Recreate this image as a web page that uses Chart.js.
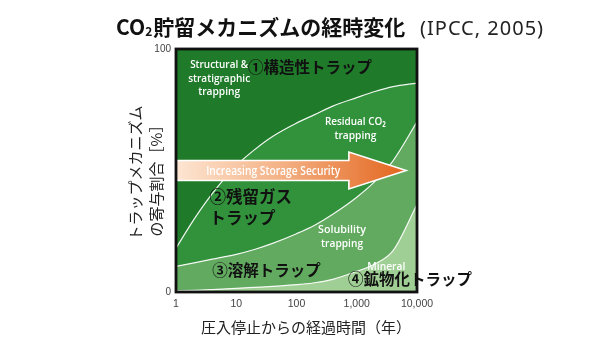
<!DOCTYPE html>
<html>
<head>
<meta charset="utf-8">
<script src="https://cdn.jsdelivr.net/npm/chart.js@4.4.1/dist/chart.umd.min.js"></script>
<style>
  html, body { margin: 0; padding: 0; background: #fff; }
  #wrap { width: 590px; height: 345px; position: relative; }
</style>
</head>
<body>
<div id="wrap"><canvas id="trapChart"></canvas></div>
<script>
// years after injection stops (log axis)
const years = [1, 2, 4, 10, 20, 40, 100, 200, 400, 1000, 2000, 4000, 10000];
// cumulative upper edge of each trapping band [%]
const mineralTop    = [0.5, 0.7, 1, 1.5, 1.9, 2.3, 3, 3.8, 5.2, 8.5, 11.5, 17, 36];
const solubilityTop = [10.5, 12, 13.5, 15.5, 17.5, 20, 24, 27.5, 32, 39, 45.5, 54, 70];
const residualTop   = [18, 30, 40.5, 52, 58.5, 64, 69.5, 73, 76.5, 80, 82.5, 84.5, 86];
const structuralTop = [100, 100, 100, 100, 100, 100, 100, 100, 100, 100, 100, 100, 100];

const xTicks = [1, 10, 100, 1000, 10000];
const yTicks = [0, 100];

const JP = '"Noto Sans CJK JP", sans-serif';
const EN = '"Open Sans", "Noto Sans", sans-serif';

function pts(arr) {
  return years.map((y, i) => ({ x: y, y: arr[i] }));
}

function band(label, arr, color, fill, line) {
  return {
    label: label,
    data: pts(arr),
    backgroundColor: color,
    borderColor: line ? "rgba(255,255,255,0.9)" : "rgba(0,0,0,0)",
    borderWidth: line ? 1.2 : 0,
    fill: fill,
    pointRadius: 0,
    cubicInterpolationMode: "monotone",
  };
}

// labels inside the plot, placed in data units (year, %)
const whiteLabels = [
  { lines: ["Structural &", "stratigraphic", "trapping"], x: 5.2, y: 93.4, w: [58, 62, 42] },
  { lines: ["Residual CO\u2082", "trapping"], x: 950, y: 70, w: [61, 42] },
  { lines: ["Solubility", "trapping"], x: 570, y: 25.5, w: [48, 42] },
  { lines: ["Mineral"], x: 3100, y: 10.3, w: [38] },
];
const jpLabels = [
  { text: "\u2460構造性トラップ", x: 15.7, y: 92.6, size: 15.5 },
  { text: "\u2461残留ガス", x: 3.6, y: 39, size: 16.5 },
  { text: "トラップ", x: 3.6, y: 30.5, size: 16.5 },
  { text: "\u2462溶解トラップ", x: 4.0, y: 9, size: 15.5 },
  { text: "\u2463鉱物化トラップ", x: 716, y: 5.3, size: 15.5 },
];
// storage security arrow, in data units
const arrow = { tail: 1, neck: 740, tip: 6600, mid: 50, shaft: 4.1, head: 7.6 };

const decor = {
  id: "decor",
  afterDatasetsDraw(chart) {
    const ctx = chart.ctx;
    const sx = chart.scales.x, sy = chart.scales.y;
    const area = chart.chartArea;
    const X = (v) => sx.getPixelForValue(v);
    const Y = (v) => sy.getPixelForValue(v);

    // arrow
    const x0 = X(arrow.tail), xn = X(arrow.neck), xt = X(arrow.tip);
    const yc = Y(arrow.mid);
    const sh = Y(arrow.mid - arrow.shaft) - yc;
    const hh = Y(arrow.mid - arrow.head) - yc;
    ctx.save();
    const g = ctx.createLinearGradient(x0, 0, xt, 0);
    g.addColorStop(0, "#fde6d3");
    g.addColorStop(0.45, "#f4b286");
    g.addColorStop(1, "#e3651d");
    ctx.beginPath();
    ctx.moveTo(x0, yc - sh);
    ctx.lineTo(xn, yc - sh);
    ctx.lineTo(xn, yc - hh);
    ctx.lineTo(xt, yc);
    ctx.lineTo(xn, yc + hh);
    ctx.lineTo(xn, yc + sh);
    ctx.lineTo(x0, yc + sh);
    ctx.closePath();
    ctx.fillStyle = g;
    ctx.fill();
    ctx.strokeStyle = "#fff";
    ctx.lineWidth = 1.6;
    ctx.stroke();
    ctx.fillStyle = "#fff";
    ctx.font = "600 12.5px " + EN;
    ctx.textAlign = "center";
    ctx.textBaseline = "middle";
    ctx.fillText("Increasing Storage Security", X(41), yc + 1, 134);

    // white english labels
    ctx.font = "600 11px " + EN;
    whiteLabels.forEach((l) => {
      l.lines.forEach((t, i) => {
        ctx.fillText(t, X(l.x), Y(l.y) + i * 13.5, l.w[i]);
      });
    });

    // japanese labels
    ctx.fillStyle = "#111";
    ctx.textAlign = "left";
    jpLabels.forEach((l) => {
      ctx.font = "bold " + l.size + "px " + JP;
      ctx.fillText(l.text, X(l.x), Y(l.y));
    });

    // frame
    ctx.strokeStyle = "#111";
    ctx.lineWidth = 2.8;
    ctx.strokeRect(area.left, area.top, area.right - area.left, area.bottom - area.top);

    // title
    ctx.fillStyle = "#111";
    ctx.textBaseline = "alphabetic";
    ctx.font = "bold 21px " + JP;
    let tx = 116;
    const base = 35;
    ctx.fillText("CO", tx, base);
    tx += ctx.measureText("CO").width;
    ctx.font = "bold 12px " + JP;
    ctx.fillText("2", tx, base + 1);
    tx += ctx.measureText("2").width + 1;
    ctx.font = "bold 21px " + JP;
    ctx.fillText("貯留メカニズムの経時変化", tx, base);
    ctx.font = '20px "Noto Sans", sans-serif';
    ctx.letterSpacing = "1px";
    ctx.fillStyle = "#222";
    ctx.fillText("(IPCC, 2005)", 420, base);
    ctx.letterSpacing = "0px";

    // axis titles
    ctx.font = "15px " + JP;
    ctx.textAlign = "center";
    ctx.textBaseline = "middle";
    ctx.fillText("圧入停止からの経過時間（年）", 306, 327);
    ctx.translate(135, 173);
    ctx.rotate(-Math.PI / 2);
    ctx.fillText("トラップメカニズム", 0, 0);
    ctx.fillText("の寄与割合［%］", -4, 21);
    ctx.restore();
  },
};

const ctx = document.getElementById("trapChart").getContext("2d");
new Chart(ctx, {
  type: "line",
  data: {
    datasets: [
      band("Mineral", mineralTop, "#a0cf95", "origin", true),
      band("Solubility", solubilityTop, "#62aa60", "-1", true),
      band("Residual", residualTop, "#32923c", "-1", true),
      band("Structural", structuralTop, "#1f7a2a", "-1", false),
    ],
  },
  options: {
    responsive: true,
    maintainAspectRatio: false,
    animation: false,
    layout: { padding: { top: 49, right: 173, left: 0, bottom: 0 } },
    plugins: { legend: { display: false }, tooltip: { enabled: false } },
    scales: {
      x: {
        type: "logarithmic",
        min: 1,
        max: 10000,
        grid: { display: false, drawTicks: false },
        border: { display: false },
        afterBuildTicks: (s) => { s.ticks = xTicks.map((v) => ({ value: v })); },
        afterFit: (s) => { s.height = 53; },
        ticks: {
          autoSkip: false,
          maxRotation: 0,
          padding: 6,
          color: "#444",
          font: { family: '"Liberation Sans", Arial, sans-serif', size: 10.5 },
          callback: (v) => Number(v).toLocaleString("en-US"),
        },
      },
      y: {
        min: 0,
        max: 100,
        grid: { display: false, drawTicks: false },
        border: { display: false },
        afterBuildTicks: (s) => { s.ticks = yTicks.map((v) => ({ value: v })); },
        afterFit: (s) => { s.width = 176; },
        ticks: {
          padding: 5,
          color: "#444",
          font: { family: '"Liberation Sans", Arial, sans-serif', size: 10 },
        },
      },
    },
  },
  plugins: [decor],
});
</script>
</body>
</html>
